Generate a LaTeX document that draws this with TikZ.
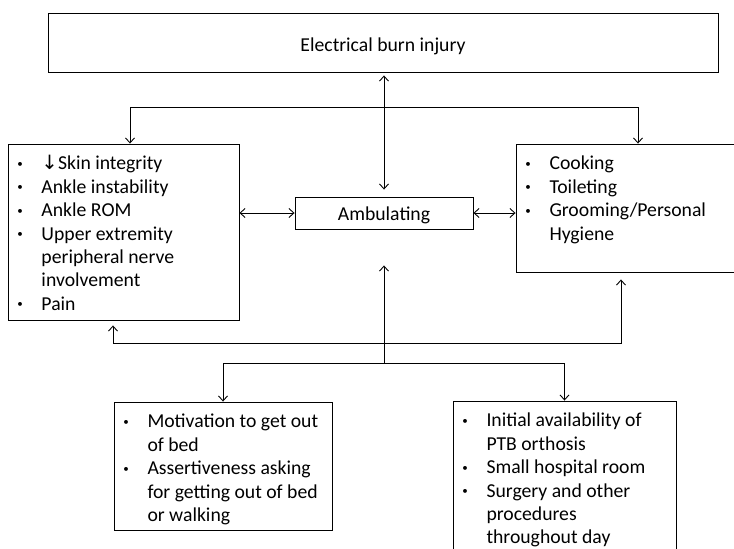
\documentclass[tikz,border=0pt]{standalone}
\usepackage{fontspec}
\setmainfont{Carlito}
\newfontfamily\arrowfont{DejaVu Sans}
\usetikzlibrary{positioning,arrows.meta}

% small bullet hanging to the left of the text column
\newcommand{\itm}{\strut\llap{\makebox[0pt][c]{\raisebox{2.5pt}{\fontsize{11}{11}\selectfont\textbullet}}\hspace{21.5pt}}}

\tikzset{
  box/.style={rectangle, draw, line width=0.9pt},
  list/.style={inner sep=0pt, align=left, anchor=north west},
}

\begin{document}
\begin{tikzpicture}[x=1pt, y=-1pt, line width=0.9pt,
    >={Straight Barb[length=5pt,width=9pt]},
    font=\fontsize{19.7}{23.4}\selectfont]
\clip (0,0) rectangle (734,549);
\fill[white] (0,0) rectangle (734,549);

\node (top) [box, minimum width=670pt, minimum height=59pt, text height=23pt, text depth=5pt] at (383,42.5) {Electrical burn injury};
\node (amb) [box, minimum width=178pt, minimum height=32pt, inner sep=0pt, text height=20pt, text depth=5pt] at (384,213) {Ambulating};
\node (lhs) [box, minimum width=231pt, minimum height=176pt] at (123.5,232) {};
\node (rhs) [box, minimum width=244pt, minimum height=128pt] at (638,208) {};
\node (mot) [box, minimum width=218pt, minimum height=128pt] at (223,466) {};
\node (env) [box, minimum width=223pt, minimum height=164pt] at (564.5,483) {};

% texts of the boxes
\node (lhslist) [list, below right=9.6pt and 33.5pt of lhs.north west]
  {\itm{\arrowfont ↓}Skin integrity\\ \itm Ankle instability\\ \itm Ankle ROM\\
   \itm Upper extremity\\ \strut peripheral nerve\\ \strut involvement\\ \itm Pain};
\node (rhslist) [list, below right=9.6pt and 33.5pt of rhs.north west]
  {\itm Cooking\\ \itm Toileting\\ \itm Grooming/Personal\\ \strut Hygiene};
\node (motlist) [list, below right=9.6pt and 33.5pt of mot.north west]
  {\itm Motivation to get out\\ \strut of bed\\ \itm Assertiveness asking\\
   \strut for getting out of bed\\ \strut or walking};
\node (envlist) [list, below right=9.6pt and 33.5pt of env.north west]
  {\itm Initial availability of\\ \strut PTB orthosis\\ \itm Small hospital room\\
   \itm Surgery and other\\ \strut procedures\\ \strut throughout day};

\coordinate (topfork) at (384,107);
\coordinate (lowfork) at (384,343);
\coordinate (hub) at (384,363);

\draw[<->, shorten <=3pt, shorten >=7pt] (top.south -| amb) -- (amb);
\draw[->] (topfork) -| ([xshift=6.5pt]lhs.north);
\draw[->] (topfork) -| (rhs.north);

\draw[<->] (lhs.east |- amb.west) -- (amb.west);
\draw[<->] (amb.east) -- (amb.east -| rhs.west);

\draw[->] (hub) -- ([yshift=-36pt]amb.south);
\draw[->] (lowfork) -| ([xshift=-10.5pt,yshift=-5pt]lhs.south);
\draw[->] (lowfork) -| ([xshift=-17pt,yshift=-7pt]rhs.south);
\draw[->] (hub) -| (mot.north);
\draw[->] (hub) -| (env.north);

\end{tikzpicture}
\end{document}
